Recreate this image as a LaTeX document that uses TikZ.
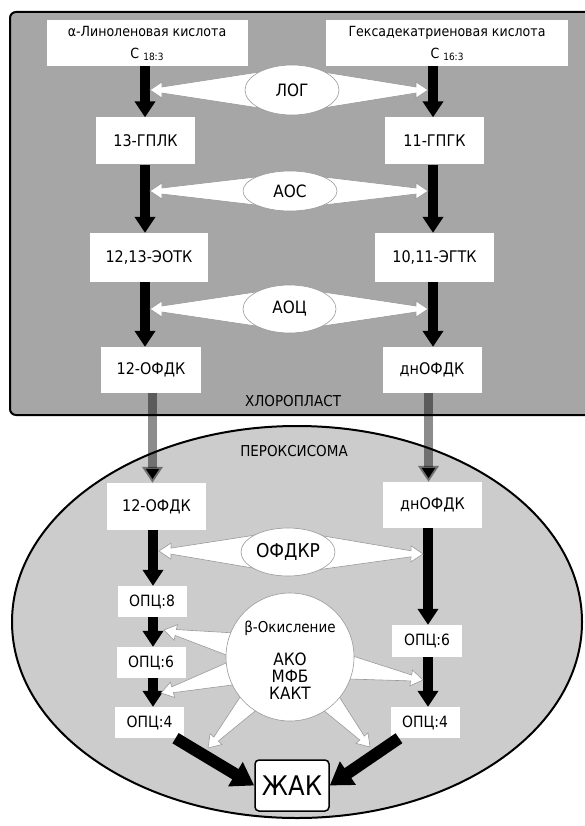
\documentclass[tikz,border=0pt]{standalone}
\usepackage{fontspec}
\setmainfont{DejaVu Sans}[FakeStretch=0.9]
\usetikzlibrary{calc,arrows.meta,shapes.geometric}
\definecolor{chlcol}{HTML}{A6A6A6}
\definecolor{percol}{HTML}{CCCCCC}
\definecolor{wedgecol}{HTML}{9A9A9A}
\newcommand{\fsz}[1]{\fontsize{#1}{#1}\selectfont}
% tapered white arrow: #1 start node/coord, #2 tip, #3 offset of base along, #4 base half width
\newcommand{\tarrow}[4]{%
  \coordinate (tab) at ($(#1)!#3!(#2)$);
  \coordinate (tah) at ($(#2)!12pt!(#1)$);
  \draw[wedgest] ($(tab)!#4!90:(#2)$) -- ($(tah)!3pt!90:(#2)$) -- ($(tah)!8pt!90:(#2)$)
     -- (#2) -- ($(tah)!8pt!-90:(#2)$) -- ($(tah)!3pt!-90:(#2)$) -- ($(tab)!#4!-90:(#2)$) -- cycle;
}
\begin{document}
\begin{tikzpicture}[x=1pt,y=-1pt,
  wbox/.style={fill=white, inner sep=0pt, align=center},
  enz/.style={ellipse, draw=wedgecol, line width=0.6pt, fill=white, inner sep=0pt, font=\fsz{17}},
  wedgest/.style={draw=wedgecol, line width=0.6pt, fill=white, line join=miter},
  blk/.style={line width=10pt, -{Triangle[width=20pt,length=16pt]}},
  gry/.style={line width=9pt, draw=black, draw opacity=0.45, -{Triangle[width=20pt,length=16pt]}},
  bigarr/.style={line width=12pt, -{Triangle[width=27pt,length=22pt]}},
  midlab/.style={wbox, font=\fsz{16}},
  opclab/.style={wbox, font=\fsz{15.5}, minimum width=69pt, minimum height=31pt}
]
\useasboundingbox (0,0) rectangle (585,826);
\fill[white] (0,0) rectangle (585,826);

% compartments
\draw[line width=2pt, fill=chlcol, rounded corners=6pt] (10,12) rectangle (610,415);
\draw[line width=2pt, fill=percol] (297,622) ellipse [x radius=285pt, y radius=196pt];
\node[font=\fsz{15}] (chltxt) at (293,401) {ХЛОРОПЛАСТ};
\node[font=\fsz{15}] (pertxt) at (294,451) {ПЕРОКСИСОМА};

% chloroplast nodes
\node[wbox, minimum width=201pt, minimum height=46pt, font=\fontsize{14}{22}\selectfont] (ala) at (147,43)
  {α-Линоленовая кислота\\С\hspace{4pt}\raisebox{-2pt}{\fsz{10}18:3}};
\node[wbox, minimum width=242pt, minimum height=46pt, font=\fontsize{14}{22}\selectfont] (hdt) at (447,43)
  {Гексадекатриеновая кислота\\С\hspace{4pt}\raisebox{-2pt}{\fsz{10}16:3}};
\node[midlab, minimum width=99pt, minimum height=47pt] (gplk) at (145.5,141) {13-ГПЛК};
\node[midlab, minimum width=99pt, minimum height=47pt] (gpgk) at (434.5,141) {11-ГПГК};
\node[midlab, minimum width=118pt, minimum height=49pt] (eotk) at (149,257.5) {12,13-ЭОТК};
\node[midlab, minimum width=119pt, minimum height=49pt] (egtk) at (434.5,257.5) {10,11-ЭГТК};
\node[midlab, minimum width=100pt, minimum height=46pt] (ofdkA) at (151,370) {12-ОФДК};
\node[midlab, minimum width=99pt, minimum height=46pt] (dnA) at (432,370) {днОФДК};

\coordinate (cL) at (145,0);
\coordinate (cR) at (433,0);
\draw[blk] (ala.south -| cL) -- (gplk.north -| cL);
\draw[blk] (gplk.south -| cL) -- (eotk.north -| cL);
\draw[blk] (eotk.south -| cL) -- (ofdkA.north -| cL);
\draw[blk] (hdt.south -| cR) -- (gpgk.north -| cR);
\draw[blk] (gpgk.south -| cR) -- (egtk.north -| cR);
\draw[blk] (egtk.south -| cR) -- (dnA.north -| cR);

% enzymes in chloroplast
\coordinate (logC) at (292,90);
\coordinate (aosC) at (290,191);
\coordinate (aocC) at (289.5,309);
\coordinate (tLog1) at (150,90);
\coordinate (tLog2) at (428,90);
\coordinate (tAos1) at (150,191);
\coordinate (tAos2) at (428,191);
\coordinate (tAoc1) at (150,309);
\coordinate (tAoc2) at (428,309);
\tarrow{logC}{tLog1}{0pt}{23pt}
\tarrow{logC}{tLog2}{0pt}{23pt}
\tarrow{aosC}{tAos1}{0pt}{18pt}
\tarrow{aosC}{tAos2}{0pt}{18pt}
\tarrow{aocC}{tAoc1}{0pt}{22pt}
\tarrow{aocC}{tAoc2}{0pt}{22pt}
\node[enz, minimum width=94pt, minimum height=50pt] (log) at (logC) {ЛОГ};
\node[enz, minimum width=94pt, minimum height=40pt] (aos) at (aosC) {АОС};
\node[enz, minimum width=93pt, minimum height=48pt] (aoc) at (aocC) {АОЦ};

% peroxisome nodes
\node[midlab, minimum width=99pt, minimum height=47pt] (ofdkB) at (156.5,506.5) {12-ОФДК};
\node[midlab, minimum width=99pt, minimum height=46pt] (dnB) at (432.5,505) {днОФДК};
\node[opclab] (opc8) at (152,601.5) {ОПЦ:8};
\node[opclab] (opc6L) at (151,662.5) {ОПЦ:6};
\node[opclab] (opc4L) at (149.5,722.5) {ОПЦ:4};
\node[opclab, minimum width=70pt, minimum height=32pt] (opc6R) at (427,641) {ОПЦ:6};
\node[opclab] (opc4R) at (425,722.5) {ОПЦ:4};
\node[draw, line width=1.5pt, rounded corners=4pt, fill=white, minimum width=74pt, minimum height=51pt, inner sep=0pt, font=\fsz{27}] (zhak) at (292,785.5) {ЖАК};

% transport arrows
\coordinate (gL) at (152.5,0);
\coordinate (gR) at (428.5,0);
\draw[gry] (ofdkA.south -| gL) -- (ofdkB.north -| gL);
\draw[gry] (dnA.south -| gR) -- (dnB.north -| gR);

% peroxisome black arrows
\coordinate (pL) at (153,0);
\coordinate (pR) at (428,0);
\draw[blk] (ofdkB.south -| pL) -- (opc8.north -| pL);
\draw[blk] (opc8.south -| pL) -- (opc6L.north -| pL);
\draw[blk] (opc6L.south -| pL) -- (opc4L.north -| pL);
\draw[blk] (dnB.south -| pR) -- (opc6R.north -| pR);
\draw[blk] (opc6R.south -| pR) -- (opc4R.north -| pR);
\draw[bigarr] ($(opc4L.south east)!0.25!(opc4L.south)$) -- (zhak.west);
\draw[bigarr] ($(opc4R.south west)!0.25!(opc4R.south)$) -- (zhak.east);

% OFDKR
\coordinate (ofrC) at (288,552);
\coordinate (tOf1) at (159,551);
\coordinate (tOf2) at (423,554);
\tarrow{ofrC}{tOf1}{0pt}{22pt}
\tarrow{ofrC}{tOf2}{0pt}{22pt}
\node[enz, minimum width=94pt, minimum height=48pt, font=\fsz{19}] (ofr) at (ofrC) {ОФДКР};

% beta oxidation
\coordinate (betaC) at (290,657);
\coordinate (tB1) at (164,630);
\coordinate (tB2) at (161,693);
\coordinate (tB3) at (423,680);
\coordinate (tB4) at (208,748);
\coordinate (tB5) at (370,747);
\tarrow{betaC}{tB1}{52pt}{13pt}
\tarrow{betaC}{tB2}{52pt}{13pt}
\tarrow{betaC}{tB3}{52pt}{13pt}
\tarrow{betaC}{tB4}{52pt}{12pt}
\tarrow{betaC}{tB5}{52pt}{12pt}
\node[circle, draw=wedgecol, line width=0.6pt, fill=white, minimum size=128pt, inner sep=0pt] (beta) at (betaC) {};
\node[font=\fsz{15}] (btxt) at (290,628) {β-Окисление};
\node[font=\fsz{17}, align=center] (btxt2) at (290,676) {\fontsize{17}{22.5}\selectfont АКО\\МФБ\\КАКТ};
\end{tikzpicture}
\end{document}
